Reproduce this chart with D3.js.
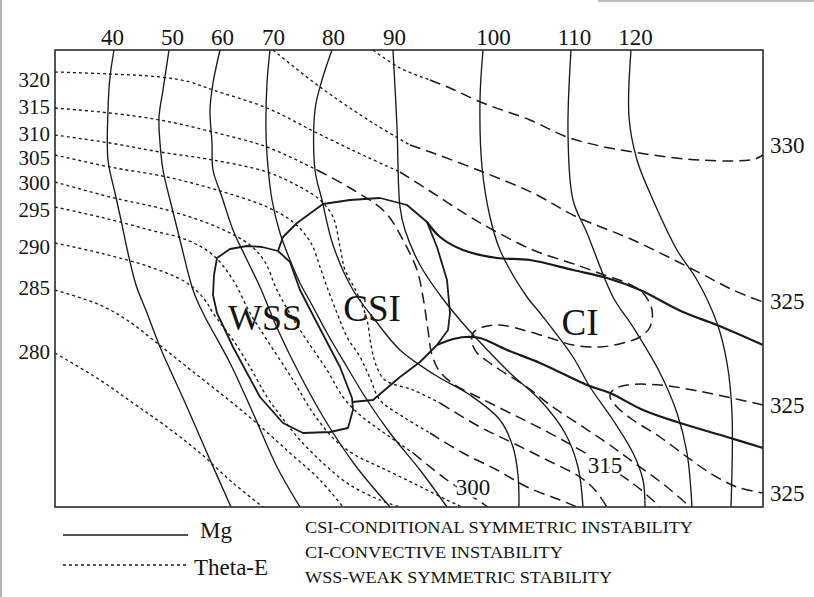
<!DOCTYPE html>
<html><head><meta charset="utf-8">
<script src="https://cdn.jsdelivr.net/npm/d3@7"></script>
<style>
body{margin:0;background:#fff}
svg{display:block}
text{font-family:"Liberation Serif","Times New Roman",serif;fill:#141414}
</style>
</head><body>
<svg id="c" width="814" height="597"></svg>
<script>
// ---------- DATA (schematic units: x 0..708, y 0..457 inside the frame) ----------
const mgValues = [40, 50, 60, 70, 80, 90, 100, 110, 120];
const mgLabelX = [57, 117, 167, 218, 278, 339, 438, 519, 580];
const mg40  = [[59,0],[55,27],[53,60],[53,110],[60,143],[66,170],[73,203],[81,235],[92,263],[105,297],[132,357],[152,403],[176,457]];
const mg50  = [[114,0],[108,40],[104,67],[105,93],[108,120],[115,150],[125,190],[138,240],[148,263],[175,313],[198,363],[222,417],[245,457]];
const mg60  = [[165,0],[158,33],[155,60],[157,93],[158,120],[167,147],[178,180],[192,210],[205,237],[223,280],[245,325],[270,370],[300,415],[335,457]];
const mg70  = [[215,0],[212,33],[211,83],[213,117],[217,150],[225,183],[235,210],[245,233],[257,255],[272,283],[292,317],[312,350],[335,383],[365,420],[392,457]];
const mg80  = [[277,0],[267,30],[260,60],[260,120],[267,150],[278,195],[298,240],[320,270],[345,300],[380,325],[415,345],[445,370],[458,397],[463,425],[464,457]];
const mg90  = [[338,0],[342,77],[345,157],[350,180],[365,215],[385,245],[405,270],[423,290],[455,323],[485,350],[510,383],[523,417],[528,457]];
const mg100 = [[428,0],[425,50],[427,117],[435,167],[445,200],[472,247],[485,263],[518,307],[535,337],[558,370],[578,403],[588,430],[590,457]];
const mg110 = [[516,0],[513,83],[518,150],[532,183],[558,247],[578,277],[605,323],[622,363],[632,403],[637,457]];
const mg120 = [[576,0],[574,67],[582,110],[598,150],[622,200],[642,230],[662,273],[672,313],[677,363],[676,457]];
const mgLines = [mg40, mg50, mg60, mg70, mg80, mg90, mg100, mg110, mg120];

const thetaValues = [320, 315, 310, 305, 300, 295, 290, 285, 280];
const thetaLabelY = [30, 57, 84, 108, 133, 160, 197, 238, 302];
const thetaDotted = [
  [[0,22],[55,24],[105,27],[135,32],[158,40],[212,58],[262,83],[312,107],[345,122]],
  [[0,58],[55,63],[105,70],[158,82],[212,97],[262,120]],
  [[0,85],[55,93],[105,102],[158,110],[212,122],[245,137],[265,150],[278,167],[285,197],[290,220],[302,243],[312,270],[316,295],[321,315],[330,330],[358,340],[385,353]],
  [[0,105],[55,117],[112,127],[162,140],[212,157],[238,172],[252,187],[258,197],[265,217],[272,237],[282,263],[292,287],[305,307],[315,328],[325,350],[350,368],[375,383]],
  [[0,132],[55,147],[112,160],[162,177],[195,195],[210,212],[222,240],[245,280],[272,320],[288,347],[305,365],[325,380],[358,403]],
  [[0,157],[45,167],[95,180],[132,190],[158,205],[178,230],[195,263],[212,290],[238,330],[258,363],[280,390],[300,405],[325,417],[358,433],[392,450],[407,457]],
  [[0,193],[45,203],[95,217],[132,233],[150,250],[158,263],[178,290],[195,317],[212,347],[225,365],[245,390],[270,415],[295,435],[325,450],[345,457]],
  [[0,240],[45,255],[72,270],[102,293],[132,317],[165,343],[198,370],[235,403],[265,430],[288,457]],
  [[0,303],[45,330],[78,353],[112,377],[145,403],[178,433],[208,457]]
];
const thetaDashed = [
  [[345,122],[378,143],[412,165],[438,180],[478,200],[522,215],[552,226],[572,233],[588,243],[597,260],[595,277],[585,287],[568,293],[545,297],[518,295],[495,288],[468,280],[445,275],[428,277],[418,283],[417,293],[422,303],[432,311],[445,320],[472,337],[495,355],[522,373],[552,393],[578,412],[612,437],[635,457]],
  [[262,120],[295,138],[330,162],[348,190],[362,220],[368,247],[373,280],[377,305],[385,322],[400,335],[425,348],[455,363],[485,378],[520,397],[550,415],[580,435],[605,457]],
  [[385,353],[425,377],[458,393],[492,410],[525,427],[540,440],[552,457]],
  [[375,383],[408,403],[442,420],[472,437],[505,450],[522,457]],
  [[358,403],[392,430],[418,447],[433,457]],
  [], [], [], []
];

// long-dashed theta-E lines entering from the top / right edge
const upperDotted = [
  [[318,0],[345,18],[375,30]],
  [[218,0],[265,37],[318,73],[355,95]]
];
const upperDashed = [
  [[375,30],[395,38],[428,53],[475,70],[512,87],[545,96],[578,102],[612,107],[645,110],[678,111],[700,109],[708,105]],
  [[355,95],[378,103],[428,122],[478,143],[522,167],[578,190],[645,223],[678,240],[708,252]],
  [[708,355],[672,347],[638,340],[605,335],[572,335],[558,340],[555,347],[562,357],[578,370],[605,387],[632,407],[655,423],[682,437],[708,443]]
];
const rightLabels = [330, 325, 325, 325];
const rightLabelY = [95, 251, 355, 443];

const innerLabels = ["300", "315"];
const innerLabelX = [418, 550];
const innerLabelY = [437, 415];

// region boundaries
const wssBoundary = [[162,208],[175,199],[192,196],[207,197],[223,201],[235,212],[245,240],[262,273],[285,317],[297,348],[298,360],[293,378],[275,382],[248,383],[228,373],[205,347],[178,297],[162,263],[158,245],[159,225]];
const csiBoundary = [[223,201],[228,187],[242,173],[268,154],[295,150],[325,148],[352,155],[372,172],[382,197],[392,230],[395,263],[393,280],[382,295],[365,312],[345,327],[318,350],[297,352]];
const ciUpper = [[372,172],[385,187],[408,200],[442,208],[475,210],[518,220],[552,228],[585,240],[628,262],[662,275],[708,295]];
const ciLower = [[382,295],[395,290],[410,287],[425,288],[452,300],[485,313],[532,335],[555,343],[588,360],[622,372],[672,387],[708,398]];

const regionNames = ["WSS", "CSI", "CI"];
const regionX = [210, 317, 525];
const regionY = [268, 258, 272];

const legendKeys = ["Mg", "Theta-E"];
const legendNotes = ["CSI-CONDITIONAL SYMMETRIC INSTABILITY", "CI-CONVECTIVE INSTABILITY", "WSS-WEAK SYMMETRIC STABILITY"];

// ---------- DRAWING ----------
const svg = d3.select("#c");
const ink = "#1a1a1a";
const x = d3.scaleLinear().domain([0, 708]).range([55, 763]);
const y = d3.scaleLinear().domain([0, 457]).range([50, 507]);
const smooth = d3.line().x(d => x(d[0])).y(d => y(d[1])).curve(d3.curveCatmullRom.alpha(0.5));
const straight = d3.line().x(d => x(d[0])).y(d => y(d[1]));

// scan artifacts (grey borders)
svg.append("line").attr("x1", 1).attr("x2", 1).attr("y1", 0).attr("y2", 597).attr("stroke", "#b5b5b5").attr("stroke-width", 2);
svg.append("line").attr("x1", 598).attr("x2", 814).attr("y1", 1).attr("y2", 1).attr("stroke", "#bdbdbd").attr("stroke-width", 2);

const plot = svg.append("g");

// theta-E dotted lines
plot.selectAll(".td").data(thetaDotted.concat(upperDotted)).join("path")
  .attr("d", smooth).attr("fill", "none").attr("stroke", ink)
  .attr("stroke-width", 1.35).attr("stroke-dasharray", "3,3");

// theta-E long dashed lines
plot.selectAll(".tl").data(thetaDashed.filter(a => a.length).concat(upperDashed)).join("path")
  .attr("d", smooth).attr("fill", "none").attr("stroke", ink)
  .attr("stroke-width", 1.5).attr("stroke-dasharray", "11,6");

// Mg lines
plot.selectAll(".mg").data(mgLines).join("path")
  .attr("d", smooth).attr("fill", "none").attr("stroke", ink).attr("stroke-width", 1.35);

// region boundaries
plot.append("path").datum(wssBoundary).attr("d", d => straight(d) + "Z")
  .attr("fill", "none").attr("stroke", ink).attr("stroke-width", 1.8).attr("stroke-linejoin", "round");
plot.append("path").datum(csiBoundary).attr("d", straight)
  .attr("fill", "none").attr("stroke", ink).attr("stroke-width", 1.8).attr("stroke-linejoin", "round");
plot.selectAll(".ci").data([ciUpper, ciLower]).join("path")
  .attr("d", smooth).attr("fill", "none").attr("stroke", ink).attr("stroke-width", 2.2);

// frame
svg.append("rect").attr("x", x(0)).attr("y", y(0)).attr("width", x(708) - x(0)).attr("height", y(457) - y(0))
  .attr("fill", "none").attr("stroke", "#2a2a2a").attr("stroke-width", 1.6);

// axes (labels only)
function styleAxis(g, size) {
  g.select(".domain").remove();
  g.selectAll("text").attr("font-family", '"Liberation Serif","Times New Roman",serif').attr("font-size", size).attr("fill", "#141414");
}
svg.append("g").attr("transform", `translate(0,${y(0)})`)
  .call(d3.axisTop(x).tickValues(mgLabelX).tickFormat((d, i) => mgValues[i]).tickSize(0).tickPadding(5))
  .call(g => styleAxis(g, 23));
svg.append("g").attr("transform", `translate(${x(0)},0)`)
  .call(d3.axisLeft(y).tickValues(thetaLabelY).tickFormat((d, i) => thetaValues[i]).tickSize(0).tickPadding(5))
  .call(g => styleAxis(g, 21));
svg.append("g").attr("transform", `translate(${x(708)},0)`)
  .call(d3.axisRight(y).tickValues(rightLabelY).tickFormat((d, i) => rightLabels[i]).tickSize(0).tickPadding(7))
  .call(g => styleAxis(g, 23));

// inner line labels with white halo
svg.selectAll(".il").data(innerLabels).join("text")
  .attr("x", (d, i) => x(innerLabelX[i])).attr("y", (d, i) => y(innerLabelY[i]))
  .attr("text-anchor", "middle").attr("dominant-baseline", "central")
  .attr("font-size", 23).attr("stroke", "#fff").attr("stroke-width", 5).attr("paint-order", "stroke")
  .text(d => d);

// region names
svg.selectAll(".rn").data(regionNames).join("text")
  .attr("x", (d, i) => x(regionX[i])).attr("y", (d, i) => y(regionY[i]))
  .attr("text-anchor", "middle").attr("dominant-baseline", "central")
  .attr("font-size", (d, i) => i === 0 ? 36 : 37).text(d => d);

// legend
const lg = svg.append("g");
lg.append("line").attr("x1", 63).attr("x2", 188).attr("y1", 535).attr("y2", 535).attr("stroke", ink).attr("stroke-width", 1.4);
lg.append("line").attr("x1", 63).attr("x2", 188).attr("y1", 565).attr("y2", 565).attr("stroke", ink).attr("stroke-width", 1.3).attr("stroke-dasharray", "3,3");
lg.selectAll(".lk").data(legendKeys).join("text")
  .attr("x", (d, i) => i === 0 ? 200 : 194).attr("y", (d, i) => i === 0 ? 538 : 575)
  .attr("font-size", 23).text(d => d);
const noteLen = [388, 258, 307];
lg.selectAll(".ln").data(legendNotes).join("text")
  .attr("x", 305).attr("y", (d, i) => 533 + i * 25)
  .attr("font-size", 17).attr("textLength", (d, i) => noteLen[i]).attr("lengthAdjust", "spacingAndGlyphs")
  .text(d => d);
</script>
</body></html>
